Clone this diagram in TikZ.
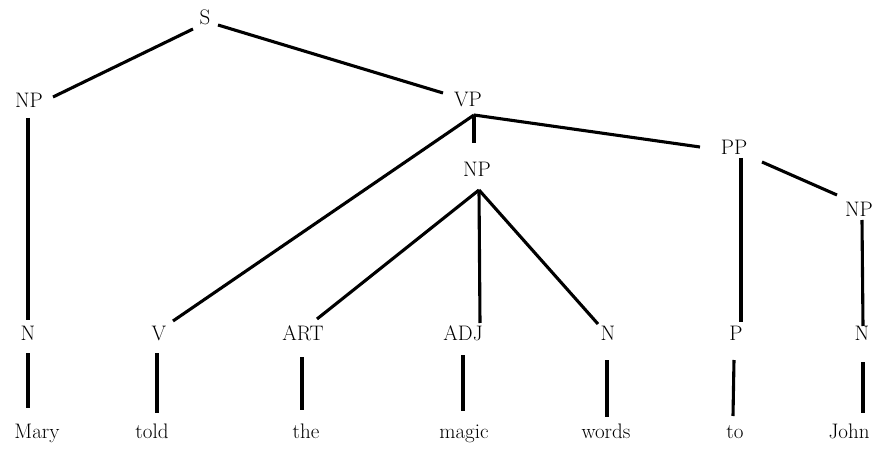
\documentclass[tikz,border=0pt]{standalone}
\usetikzlibrary{calc}
\begin{document}
\begin{tikzpicture}[x=1pt,y=-1pt,
  lbl/.style={inner sep=0pt, anchor=base, font=\fontsize{21}{25}\selectfont},
  edge/.style={line width=3.1pt}]
\useasboundingbox (0,0) rectangle (876,449);

% phrase nodes
\node[lbl] (s)   at (205,25)  {S};
\node[lbl] (np1) at (29,108)  {NP};
\node[lbl] (vp)  at (468,107) {VP};
\node[lbl] (np2) at (477,177) {NP};
\node[lbl] (pp)  at (734,155) {PP};
\node[lbl] (np3) at (859,217) {NP};

% part-of-speech nodes
\node[lbl] (n1)  at (28,341)  {N};
\node[lbl] (v)   at (159,341) {V};
\node[lbl] (art) at (303,341) {ART};
\node[lbl] (adj) at (463,341) {ADJ};
\node[lbl] (n2)  at (608,341) {N};
\node[lbl] (p)   at (736,341) {P};
\node[lbl] (n3)  at (862,341) {N};

% words
\node[lbl] (w1) at (37,438)  {Mary};
\node[lbl] (w2) at (152,438) {told};
\node[lbl] (w3) at (306,438) {the};
\node[lbl] (w4) at (464,438) {magic};
\node[lbl] (w5) at (606,438) {words};
\node[lbl] (w6) at (735,438) {to};
\node[lbl] (w7) at (849,438) {John};

% branch points below VP and the middle NP
\coordinate (vpj) at ([shift={(6,8)}]vp.base);
\coordinate (np2j) at ([shift={(2,13)}]np2.base);
\coordinate (np2t) at ([shift={(-3,-34)}]np2.base);

% phrase structure
\draw[edge] ([shift={(-12,4)}]s.base) -- ([shift={(24,-11)}]np1.base);
\draw[edge] ([shift={(13,0)}]s.base) -- ([shift={(-25,-14)}]vp.base);
\draw[edge] ([shift={(-1,10)}]np1.base) -- ([shift={(0,-21)}]n1.base);
\draw[edge] (vpj) -- ([shift={(14,-20)}]v.base);
\draw[edge] (vpj) -- (vpj |- np2t);
\draw[edge] (vpj) -- ([shift={(-34,-8)}]pp.base);
\draw[edge] (np2j) -- ([shift={(14,-22)}]art.base);
\draw[edge] (np2j) -- ([shift={(17,-18)}]adj.base);
\draw[edge] (np2j) -- ([shift={(-10,-17)}]n2.base);
\draw[edge] ([shift={(7,3)}]pp.base) -- ([shift={(5,-19)}]p.base);
\draw[edge] ([shift={(28,7)}]pp.base) -- ([shift={(-22,-22)}]np3.base);
\draw[edge] ([shift={(3,3)}]np3.base) -- ([shift={(1,-15)}]n3.base);

% lexical links
\draw[edge] ([shift={(0,12)}]n1.base)  -- ([shift={(-9,-30)}]w1.base);
\draw[edge] ([shift={(-2,12)}]v.base)  -- ([shift={(5,-25)}]w2.base);
\draw[edge] ([shift={(-1,16)}]art.base) -- ([shift={(-4,-28)}]w3.base);
\draw[edge] ([shift={(0,14)}]adj.base) -- ([shift={(-1,-27)}]w4.base);
\draw[edge] ([shift={(-1,19)}]n2.base) -- ([shift={(1,-21)}]w5.base);
\draw[edge] ([shift={(-2,19)}]p.base)  -- ([shift={(-2,-22)}]w6.base);
\draw[edge] ([shift={(1,21)}]n3.base)  -- ([shift={(14,-25)}]w7.base);
\end{tikzpicture}
\end{document}
